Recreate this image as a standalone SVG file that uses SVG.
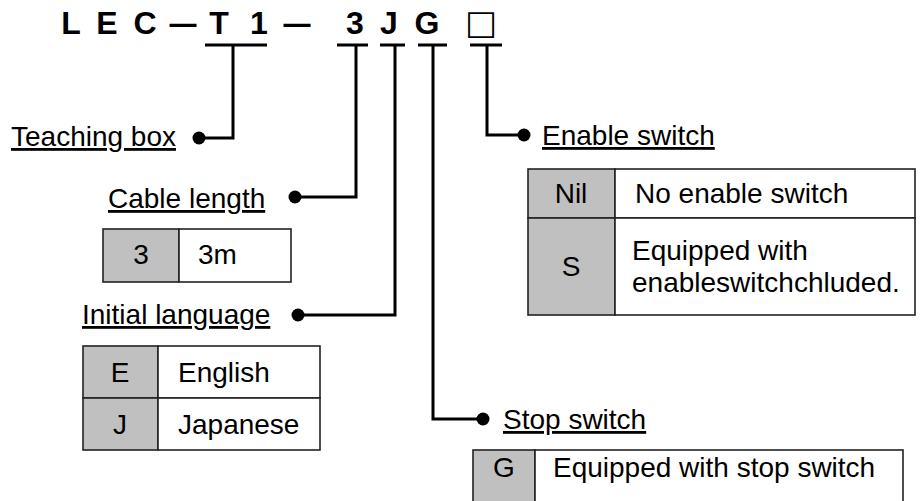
<svg xmlns="http://www.w3.org/2000/svg" width="921" height="501" viewBox="0 0 921 501">
<style>
.t{font-family:"Liberation Sans",Arial,sans-serif;font-size:28px;fill:#000}
.u{text-decoration:underline}
.c{text-anchor:middle}
.ti{font-family:"Liberation Sans",Arial,sans-serif;font-size:32px;font-weight:bold;fill:#000;text-anchor:middle}
.ln{fill:none;stroke:#000;stroke-width:3}
.cell{stroke:#222;stroke-width:1.6}
.g{fill:#c0c0c0}
.w{fill:#fff}
</style>
<rect width="921" height="501" fill="#fff"/>
<g id="title">
<text class="ti" x="71" y="34">L</text>
<text class="ti" x="107" y="34">E</text>
<text class="ti" x="145" y="34">C</text>
<text class="ti" x="183" y="34" textLength="27" lengthAdjust="spacingAndGlyphs">—</text>
<text class="ti" x="219" y="34">T</text>
<text class="ti" x="259" y="34">1</text>
<text class="ti" x="297" y="34" textLength="27" lengthAdjust="spacingAndGlyphs">—</text>
<text class="ti" x="355" y="34">3</text>
<text class="ti" x="389" y="34">J</text>
<text class="ti" x="427" y="34">G</text>
<text class="ti" x="481" y="34" style="font-family:'DejaVu Sans',sans-serif;font-weight:bold;font-size:34px">□</text>
</g>
<g id="connectors">
<path class="ln" d="M205,45H267M337,45H368M380,45H405M418,45H447M470,45H502"/>
<path class="ln" d="M233,45V138H199"/>
<path class="ln" d="M356,45V197H295"/>
<path class="ln" d="M395,45V315H298"/>
<path class="ln" d="M433,45V419H483"/>
<path class="ln" d="M487,45V135H524"/>
<circle cx="199" cy="138" r="6.5"/>
<circle cx="295" cy="197" r="6.5"/>
<circle cx="298" cy="315" r="6.5"/>
<circle cx="483" cy="419" r="6.5"/>
<circle cx="524" cy="135" r="6.5"/>
</g>
<g id="teaching-box">
<text class="t u" x="11" y="146">Teaching box</text>
</g>
<g id="cable-length">
<text class="t u" x="108" y="208">Cable length</text>
<rect class="cell g" x="103" y="229" width="76" height="53"/>
<rect class="cell w" x="179" y="229" width="112" height="53"/>
<text class="t c" x="141" y="264">3</text>
<text class="t" x="198" y="264">3m</text>
</g>
<g id="initial-language">
<text class="t u" x="82" y="324">Initial language</text>
<rect class="cell g" x="83" y="346" width="75" height="52"/>
<rect class="cell w" x="158" y="346" width="162" height="52"/>
<rect class="cell g" x="83" y="398" width="75" height="52"/>
<rect class="cell w" x="158" y="398" width="162" height="52"/>
<text class="t c" x="120" y="382">E</text>
<text class="t" x="178" y="382">English</text>
<text class="t c" x="120" y="434">J</text>
<text class="t" x="178" y="434">Japanese</text>
</g>
<g id="enable-switch">
<text class="t u" x="542" y="145">Enable switch</text>
<rect class="cell g" x="528" y="169" width="87" height="49"/>
<rect class="cell w" x="615" y="169" width="300" height="49"/>
<rect class="cell g" x="528" y="218" width="87" height="97"/>
<rect class="cell w" x="615" y="218" width="300" height="97"/>
<text class="t c" x="571" y="203">Nil</text>
<text class="t" x="635" y="203">No enable switch</text>
<text class="t c" x="571" y="276">S</text>
<text class="t" x="632" y="260">Equipped with</text>
<text class="t" x="632" y="292">enableswitchchluded.</text>
</g>
<g id="stop-switch">
<text class="t u" x="503" y="429">Stop switch</text>
<rect class="cell g" x="473" y="450" width="62" height="60"/>
<rect class="cell w" x="535" y="450" width="368" height="60"/>
<text class="t c" x="504" y="477">G</text>
<text class="t" x="553" y="477">Equipped with stop switch</text>
</g>
</svg>
